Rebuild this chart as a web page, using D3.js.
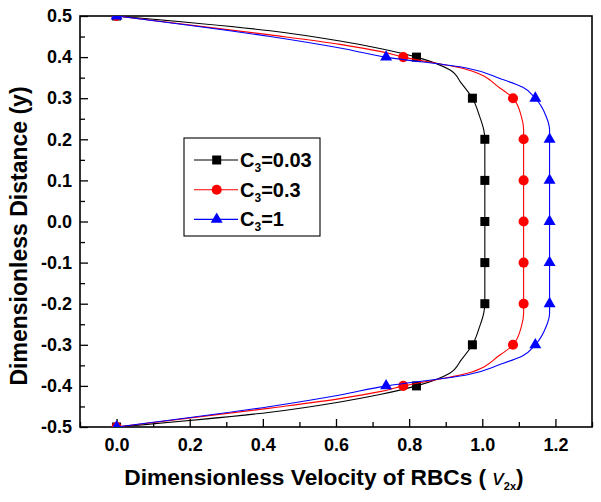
<!DOCTYPE html>
<html>
<head>
<meta charset="utf-8">
<script src="https://cdn.jsdelivr.net/npm/d3@7"></script>
<style>
  html, body { margin: 0; padding: 0; background: #fff; }
  text { font-family: "Liberation Sans", Arial, sans-serif; font-weight: bold; fill: #000; }
</style>
</head>
<body>
<svg id="chart" width="601" height="502"></svg>
<script>
// ---------- data ----------
const markerY = [0.5, 0.4, 0.3, 0.2, 0.1, 0.0, -0.1, -0.2, -0.3, -0.4, -0.5];
const blackMarkers = [0, 0.82, 0.973, 1.007, 1.007, 1.007, 1.007, 1.007, 0.973, 0.82, 0];
const redMarkers   = [0, 0.784, 1.084, 1.113, 1.113, 1.113, 1.113, 1.113, 1.084, 0.784, 0];
const blueMarkers  = [0, 0.737, 1.145, 1.184, 1.184, 1.184, 1.184, 1.184, 1.145, 0.737, 0];

// smooth profile curves: [y, v]
const blackCurve = [
  [0.5, 0], [0.464, 0.42], [0.439, 0.611], [0.421, 0.72], [0.4, 0.82], [0.369, 0.911], [0.336, 0.943],
  [0.3, 0.973], [0.255, 0.993], [0.223, 1.004], [0.2, 1.007], [-0.2, 1.007], [-0.223, 1.004],
  [-0.255, 0.993], [-0.3, 0.973], [-0.336, 0.943], [-0.369, 0.911], [-0.4, 0.82], [-0.421, 0.72],
  [-0.439, 0.611], [-0.464, 0.42], [-0.5, 0]
];
const redCurve = [
  [0.5, 0], [0.454, 0.42], [0.431, 0.611], [0.414, 0.72], [0.4, 0.784], [0.370, 0.957], [0.325, 1.048],
  [0.3, 1.084], [0.255, 1.107], [0.223, 1.113], [0.2, 1.113], [-0.2, 1.113], [-0.223, 1.113],
  [-0.255, 1.107], [-0.3, 1.084], [-0.325, 1.048], [-0.370, 0.957], [-0.4, 0.784], [-0.414, 0.72],
  [-0.431, 0.611], [-0.454, 0.42], [-0.5, 0]
];
const blueCurve = [
  [0.5, 0], [0.450, 0.42], [0.422, 0.611], [0.4, 0.737], [0.3735, 0.957], [0.348, 1.048],
  [0.3265, 1.111], [0.3, 1.145], [0.255, 1.175], [0.223, 1.184], [0.2, 1.184], [-0.2, 1.184],
  [-0.223, 1.184], [-0.255, 1.175], [-0.3, 1.145], [-0.3265, 1.111], [-0.348, 1.048], [-0.3735, 0.957],
  [-0.4, 0.737], [-0.422, 0.611], [-0.450, 0.42], [-0.5, 0]
];

const seriesNames = ["0.03", "0.3", "1"];
const seriesColors = ["#000000", "#ff0000", "#0000ff"];
const seriesSymbols = ["square", "circle", "triangle"];

const xTicks = [0.0, 0.2, 0.4, 0.6, 0.8, 1.0, 1.2];
const xMinor = [-0.1, 0.1, 0.3, 0.5, 0.7, 0.9, 1.1, 1.3];
const yTicks = [-0.5, -0.4, -0.3, -0.2, -0.1, 0.0, 0.1, 0.2, 0.3, 0.4, 0.5];
const yMinor = [-0.45, -0.35, -0.25, -0.15, -0.05, 0.05, 0.15, 0.25, 0.35, 0.45];

// ---------- layout ----------
const L = 80, R = 592, T = 16, B = 427;
const svg = d3.select("#chart");
const x = d3.scaleLinear().domain([-0.1, 1.3]).range([L, R]);
const y = d3.scaleLinear().domain([-0.5, 0.5]).range([B, T]);
const fmt = d => d3.format(".1f")(d).replace("\u2212", "-");

svg.append("defs").append("clipPath").attr("id", "plotclip")
  .append("rect").attr("x", L).attr("y", T).attr("width", R - L).attr("height", B - T);

// axes
svg.append("g").attr("transform", `translate(0,${B})`)
  .call(d3.axisBottom(x).tickValues(xTicks).tickSize(-8).tickPadding(11).tickFormat(fmt));
svg.append("g").attr("transform", `translate(0,${B})`)
  .call(d3.axisBottom(x).tickValues(xMinor).tickSize(-5).tickFormat(""));
svg.append("g").attr("transform", `translate(${L},0)`)
  .call(d3.axisLeft(y).tickValues(yTicks).tickSize(-8).tickPadding(8).tickFormat(fmt));
svg.append("g").attr("transform", `translate(${L},0)`)
  .call(d3.axisLeft(y).tickValues(yMinor).tickSize(-5).tickFormat(""));
svg.selectAll(".domain").remove();
svg.selectAll(".tick line").attr("stroke", "#000").attr("stroke-width", 1.3);
svg.selectAll(".tick text").style("font-size", "18px").style("font-family", "'Liberation Sans', Arial, sans-serif").style("font-weight", "bold");

svg.append("rect").attr("x", L).attr("y", T).attr("width", R - L).attr("height", B - T)
  .attr("fill", "none").attr("stroke", "#000").attr("stroke-width", 1.6);

// series
const symbolType = { square: d3.symbolSquare, circle: d3.symbolCircle, triangle: d3.symbolTriangle };
const symbolSize = { square: 81, circle: 80, triangle: 62 };
const curves = [blackCurve, redCurve, blueCurve];
const markers = [blackMarkers, redMarkers, blueMarkers];
const plot = svg.append("g").attr("clip-path", "url(#plotclip)");
const line = d3.line().x(d => x(d[1])).y(d => y(d[0])).curve(d3.curveMonotoneY);

curves.forEach((c, i) => {
  const sorted = c.slice().sort((a, b) => a[0] - b[0]);
  plot.append("path").datum(sorted).attr("d", line)
    .attr("fill", "none").attr("stroke", seriesColors[i]).attr("stroke-width", 1.1);
  const sym = d3.symbol().type(symbolType[seriesSymbols[i]]).size(symbolSize[seriesSymbols[i]]);
  plot.selectAll(null).data(markers[i].map((v, k) => [v, markerY[k]])).enter()
    .append("path").attr("d", sym)
    .attr("transform", d => `translate(${x(d[0])},${y(d[1])})`)
    .attr("fill", seriesColors[i]);
});

// legend
const lg = svg.append("g");
lg.append("rect").attr("x", 184).attr("y", 138).attr("width", 136).attr("height", 98)
  .attr("fill", "#fff").attr("stroke", "#000").attr("stroke-width", 1.1);
seriesNames.forEach((n, i) => {
  const ly = 160 + i * 29.7;
  lg.append("line").attr("x1", 194).attr("x2", 238).attr("y1", ly).attr("y2", ly)
    .attr("stroke", seriesColors[i]).attr("stroke-width", 1.1);
  lg.append("path").attr("d", d3.symbol().type(symbolType[seriesSymbols[i]]).size(symbolSize[seriesSymbols[i]]))
    .attr("transform", `translate(216.7,${ly})`).attr("fill", seriesColors[i]);
  const t = lg.append("text").attr("x", 240).attr("y", ly + 7).style("font-size", "20px");
  t.append("tspan").text("C");
  t.append("tspan").attr("dy", 5).style("font-size", "12px").text("3");
  t.append("tspan").attr("dy", -5).text("=" + n);
});

// axis titles
const xt = svg.append("text").attr("x", 324).attr("y", 485).attr("text-anchor", "middle").style("font-size", "22.7px");
xt.append("tspan").text("Dimensionless Velocity of RBCs (");
xt.append("tspan").style("font-style", "italic").style("font-weight", "normal").text(" v");
xt.append("tspan").attr("dy", 5).style("font-size", "11px").text("2x");
xt.append("tspan").attr("dy", -5).text(")");

svg.append("text").attr("transform", "rotate(-90)").attr("x", -236).attr("y", 27)
  .attr("text-anchor", "middle").style("font-size", "23px").text("Dimensionless Distance (y)");
</script>
</body>
</html>
